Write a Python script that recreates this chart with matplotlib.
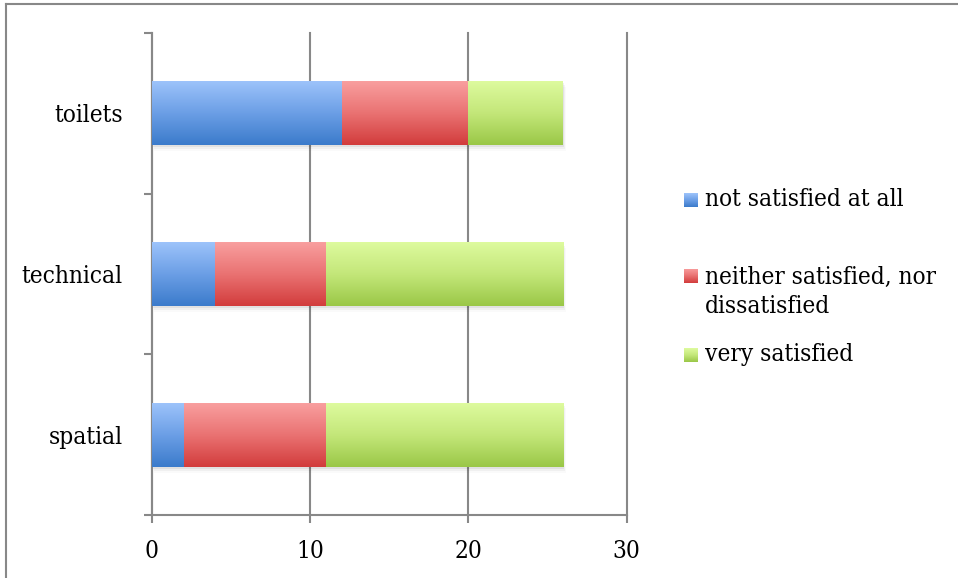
import numpy as np
import matplotlib.pyplot as plt
from matplotlib.colors import LinearSegmentedColormap
from matplotlib.lines import Line2D

# Survey answers per area (bottom to top)
categories = ["spatial", "technical", "toilets"]
not_satisfied = [2, 4, 12]
neutral = [9, 7, 8]
very_satisfied = [15, 15, 6]
series_labels = ["not satisfied at all", "neither satisfied, nor\ndissatisfied", "very satisfied"]
x_ticks = [0, 10, 20, 30]

# top / middle / bottom shades for each series
gradients = [
    ("#9EC4FB", "#6C9FE6", "#3B7BCB"),
    ("#F9A0A0", "#EA7373", "#D23C3C"),
    ("#DEFB9F", "#C4E77A", "#9AC747"),
]

plt.rcParams['font.family'] = 'DejaVu Serif'
plt.rcParams['font.stretch'] = 'condensed'
fs = 17.5
grey = "#888888"

fig = plt.figure(figsize=(9.58, 5.78), dpi=100)
ax = fig.add_axes([152 / 958, 63 / 578, 474.7 / 958, 482 / 578])

grad = np.linspace(0, 1, 200).reshape(-1, 1)
y = np.arange(len(categories))
left = np.zeros(len(categories))
bar_h = 0.4
for vals, shades in zip([not_satisfied, neutral, very_satisfied], gradients):
    vals = np.array(vals, dtype=float)
    cmap = LinearSegmentedColormap.from_list("g", [shades[2], shades[1], shades[0]])
    # soft drop shadow under the bars
    for k, a in enumerate([0.06, 0.04, 0.02]):
        ax.barh(y - 0.012 * (k + 1), vals, left=left + 0.05 * (k + 1), height=bar_h,
                color="black", alpha=a, lw=0, zorder=1)
    bars = ax.barh(y, vals, left=left, height=bar_h, color=shades[1], lw=0, zorder=2)
    for b in bars:
        x0, y0 = b.get_x(), b.get_y()
        im = ax.imshow(grad, cmap=cmap, origin="lower", aspect="auto",
                       extent=[x0, x0 + b.get_width(), y0, y0 + b.get_height()],
                       zorder=3)
        im.set_clip_path(b)
    left += vals

ax.set_xlim(0, 30)
ax.set_ylim(-0.5, len(categories) - 0.5)
ax.set_xticks(x_ticks)
ax.set_yticks(np.arange(len(categories) + 1) - 0.5)
ax.set_yticklabels([])
ax.set_yticks(y, minor=True)
ax.set_yticklabels(categories, minor=True)

ax.grid(axis="x", color=grey, lw=1.5, zorder=0)
for gl in ax.get_xgridlines():
    gl.set_clip_on(False)
ax.set_axisbelow(True)
for s in ["top", "right"]:
    ax.spines[s].set_visible(False)
for s in ["left", "bottom"]:
    ax.spines[s].set_color(grey)
    ax.spines[s].set_linewidth(1.5)

ax.tick_params(axis="both", which="major", direction="out", length=6, width=1.5,
               color=grey, labelsize=fs)
ax.tick_params(axis="x", pad=12)
ax.tick_params(axis="y", which="minor", length=0, pad=21, labelsize=fs)

# legend: gradient squares with labels
legend_rows = [(200, 199), (276, 292), (355, 354)]
for (sq_y, txt_y), shades, label in zip(legend_rows, gradients, series_labels):
    lax = fig.add_axes([684 / 958, 1 - (sq_y + 7) / 578, 14 / 958, 14 / 578])
    lax.imshow(grad, cmap=LinearSegmentedColormap.from_list("g", [shades[2], shades[1], shades[0]]),
               origin="lower", aspect="auto")
    lax.axis("off")
    fig.text(705 / 958, 1 - txt_y / 578, label, fontsize=fs, va="center", ha="left",
             linespacing=1.3)

# outer frame (top and left edges)
fig.add_artist(Line2D([6 / 958, 1], [1 - 4 / 578, 1 - 4 / 578], color=grey, lw=1.5))
fig.add_artist(Line2D([6 / 958, 6 / 958], [0, 1 - 4 / 578], color=grey, lw=1.5))

fig.savefig("out.png", dpi=100)
